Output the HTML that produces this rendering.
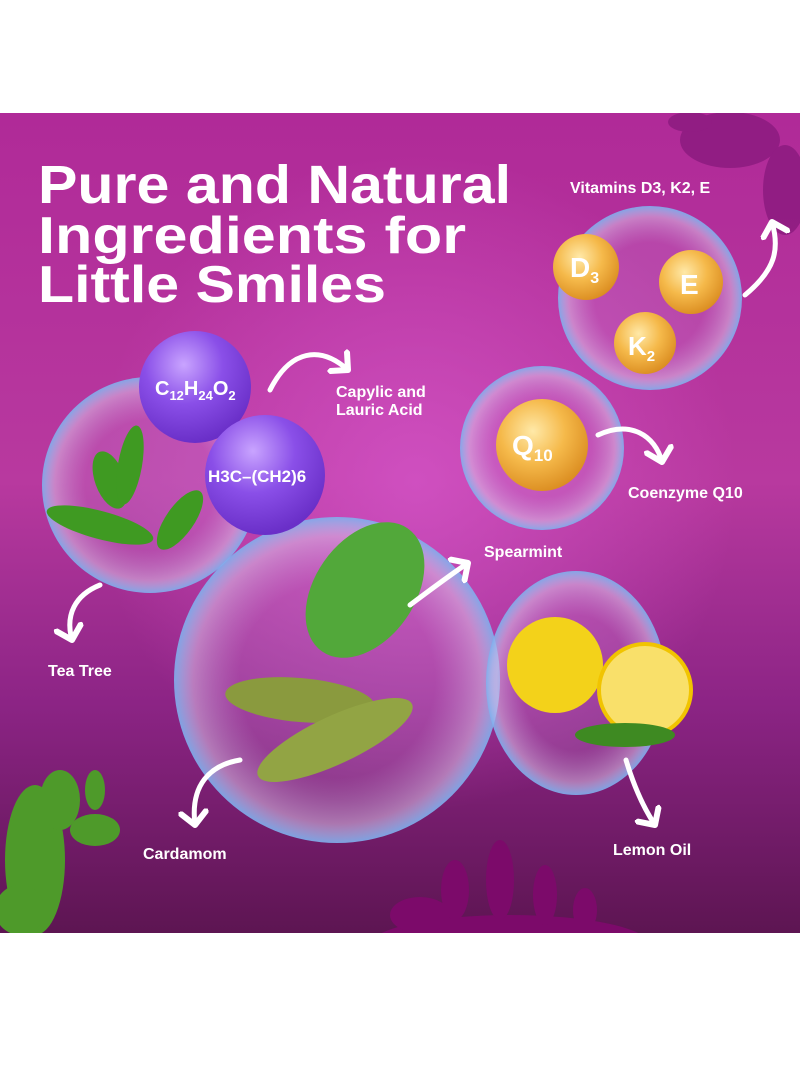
<!DOCTYPE html>
<html><head><style>
html,body{margin:0;padding:0;background:#fff;}
svg{display:block;}
text{font-family:"Liberation Sans",sans-serif;fill:#fff;}
</style></head><body>
<svg width="800" height="1091" viewBox="0 0 800 1091" xmlns="http://www.w3.org/2000/svg">
<defs>
<clipPath id="cp"><rect x="0" y="113" width="800" height="820"/></clipPath>
<linearGradient id="bg" x1="0" y1="0" x2="0" y2="1">
<stop offset="0" stop-color="#b02a98"/>
<stop offset="0.45" stop-color="#b8399f"/>
<stop offset="0.72" stop-color="#8c2485"/>
<stop offset="1" stop-color="#5d1552"/>
</linearGradient>
<radialGradient id="glow" cx="0.52" cy="0.45" r="0.4">
<stop offset="0" stop-color="#d555c8" stop-opacity="0.8"/>
<stop offset="1" stop-color="#d555c8" stop-opacity="0"/>
</radialGradient>
<radialGradient id="bub" cx="0.5" cy="0.5" r="0.5">
<stop offset="0.6" stop-color="#c58ad6" stop-opacity="0.25"/>
<stop offset="0.88" stop-color="#d9c0e8" stop-opacity="0.55"/>
<stop offset="1" stop-color="#7fb0ee" stop-opacity="0.9"/>
</radialGradient>
<radialGradient id="purp" cx="0.4" cy="0.3" r="0.7">
<stop offset="0" stop-color="#c9a4ff"/>
<stop offset="0.5" stop-color="#8a4fe8"/>
<stop offset="1" stop-color="#6a2fc8"/>
</radialGradient>
<radialGradient id="gold" cx="0.4" cy="0.35" r="0.7">
<stop offset="0" stop-color="#ffe9a8"/>
<stop offset="0.5" stop-color="#f5b94a"/>
<stop offset="1" stop-color="#d98a1e"/>
</radialGradient>
<marker id="ah" markerWidth="6" markerHeight="6" refX="3" refY="3" orient="auto" markerUnits="strokeWidth"><path d="M0.5,0.5 L3,3 L0.5,5.5" fill="none" stroke="#fff" stroke-width="1.2" stroke-linecap="round" stroke-linejoin="round"/></marker>
</defs>
<g clip-path="url(#cp)">
<rect x="0" y="113" width="800" height="820" fill="url(#bg)"/>
<rect x="0" y="113" width="800" height="820" fill="url(#glow)"/>
<g fill="#8a1a7e" opacity="0.8">
<ellipse cx="730" cy="140" rx="50" ry="28"/><ellipse cx="785" cy="190" rx="22" ry="45"/><ellipse cx="690" cy="122" rx="22" ry="10"/>
</g>
<g fill="#7c0a6a">
<ellipse cx="510" cy="945" rx="140" ry="30"/><ellipse cx="420" cy="915" rx="30" ry="18"/><ellipse cx="455" cy="890" rx="14" ry="30"/><ellipse cx="500" cy="880" rx="14" ry="40"/><ellipse cx="545" cy="895" rx="12" ry="30"/><ellipse cx="585" cy="910" rx="12" ry="22"/>
</g>
<g fill="#4e9a2a">
<ellipse cx="35" cy="860" rx="30" ry="75"/><ellipse cx="60" cy="800" rx="20" ry="30"/><ellipse cx="95" cy="830" rx="25" ry="16"/><ellipse cx="20" cy="910" rx="25" ry="25"/><ellipse cx="95" cy="790" rx="10" ry="20"/>
</g>
</g>
<circle cx="150" cy="485" r="108" fill="url(#bub)"/>
<circle cx="337" cy="680" r="163" fill="url(#bub)"/>
<ellipse cx="576" cy="683" rx="90" ry="112" fill="url(#bub)"/>
<circle cx="542" cy="448" r="82" fill="url(#bub)"/>
<circle cx="650" cy="298" r="92" fill="url(#bub)"/>
<circle cx="195" cy="387" r="56" fill="url(#purp)"/>
<circle cx="265" cy="475" r="60" fill="url(#purp)"/>
<text x="155" y="395" font-size="20" font-weight="bold">C<tspan font-size="13" dy="5">12</tspan><tspan dy="-5">H</tspan><tspan font-size="13" dy="5">24</tspan><tspan dy="-5">O</tspan><tspan font-size="13" dy="5">2</tspan></text>
<text x="208" y="482" font-size="17" font-weight="bold">H3C–(CH2)6</text>
<g fill="#3f9a22">
<ellipse cx="110" cy="480" rx="15" ry="30" transform="rotate(-20 110 480)"/>
<ellipse cx="130" cy="465" rx="12" ry="40" transform="rotate(10 130 465)"/>
<ellipse cx="100" cy="525" rx="55" ry="14" transform="rotate(15 100 525)"/>
<ellipse cx="180" cy="520" rx="14" ry="35" transform="rotate(35 180 520)"/>
</g>
<ellipse cx="365" cy="590" rx="50" ry="75" fill="#52a83a" transform="rotate(35 365 590)"/>
<ellipse cx="300" cy="700" rx="75" ry="22" fill="#8a9a3e" transform="rotate(5 300 700)"/>
<ellipse cx="335" cy="740" rx="85" ry="24" fill="#92a444" transform="rotate(-25 335 740)"/>
<circle cx="555" cy="665" r="48" fill="#f3d21a"/>
<circle cx="645" cy="690" r="46" fill="#f9e06a" stroke="#f1c400" stroke-width="4"/>
<ellipse cx="625" cy="735" rx="50" ry="12" fill="#3e8a22"/>
<circle cx="586" cy="267" r="33" fill="url(#gold)"/>
<circle cx="691" cy="282" r="32" fill="url(#gold)"/>
<circle cx="645" cy="343" r="31" fill="url(#gold)"/>
<circle cx="542" cy="445" r="46" fill="url(#gold)"/>
<text x="570" y="277" font-size="28" font-weight="bold">D<tspan font-size="16" dy="6">3</tspan></text>
<text x="680" y="294" font-size="28" font-weight="bold">E</text>
<text x="628" y="355" font-size="26" font-weight="bold">K<tspan font-size="15" dy="6">2</tspan></text>
<text x="512" y="455" font-size="28" font-weight="bold">Q<tspan font-size="17" dy="6">10</tspan></text>
<text x="38" y="203" font-size="54" font-weight="bold" textLength="473" lengthAdjust="spacingAndGlyphs">Pure and Natural</text>
<text x="38" y="253" font-size="52" font-weight="bold" textLength="428" lengthAdjust="spacingAndGlyphs">Ingredients for</text>
<text x="38" y="302" font-size="52" font-weight="bold" textLength="348" lengthAdjust="spacingAndGlyphs">Little Smiles</text>
<g font-size="16" font-weight="bold">
<text x="570" y="193">Vitamins D3, K2, E</text>
<text x="336" y="397">Capylic and</text>
<text x="336" y="415">Lauric Acid</text>
<text x="628" y="498">Coenzyme Q10</text>
<text x="484" y="557">Spearmint</text>
<text x="48" y="676">Tea Tree</text>
<text x="143" y="859">Cardamom</text>
<text x="613" y="855">Lemon Oil</text>
</g>
<g fill="none" stroke="#fff" stroke-width="5" stroke-linecap="round" marker-end="url(#ah)">
<path d="M745,295 C775,270 780,250 772,222"/>
<path d="M270,390 C290,350 320,345 348,370"/>
<path d="M598,435 C630,420 655,435 662,462"/>
<path d="M410,605 C430,590 450,575 468,563"/>
<path d="M100,585 C75,595 65,615 72,640"/>
<path d="M240,760 C210,765 190,785 195,825"/>
<path d="M626,760 C635,790 645,810 655,825"/>
</g>
</svg>
</body></html>
